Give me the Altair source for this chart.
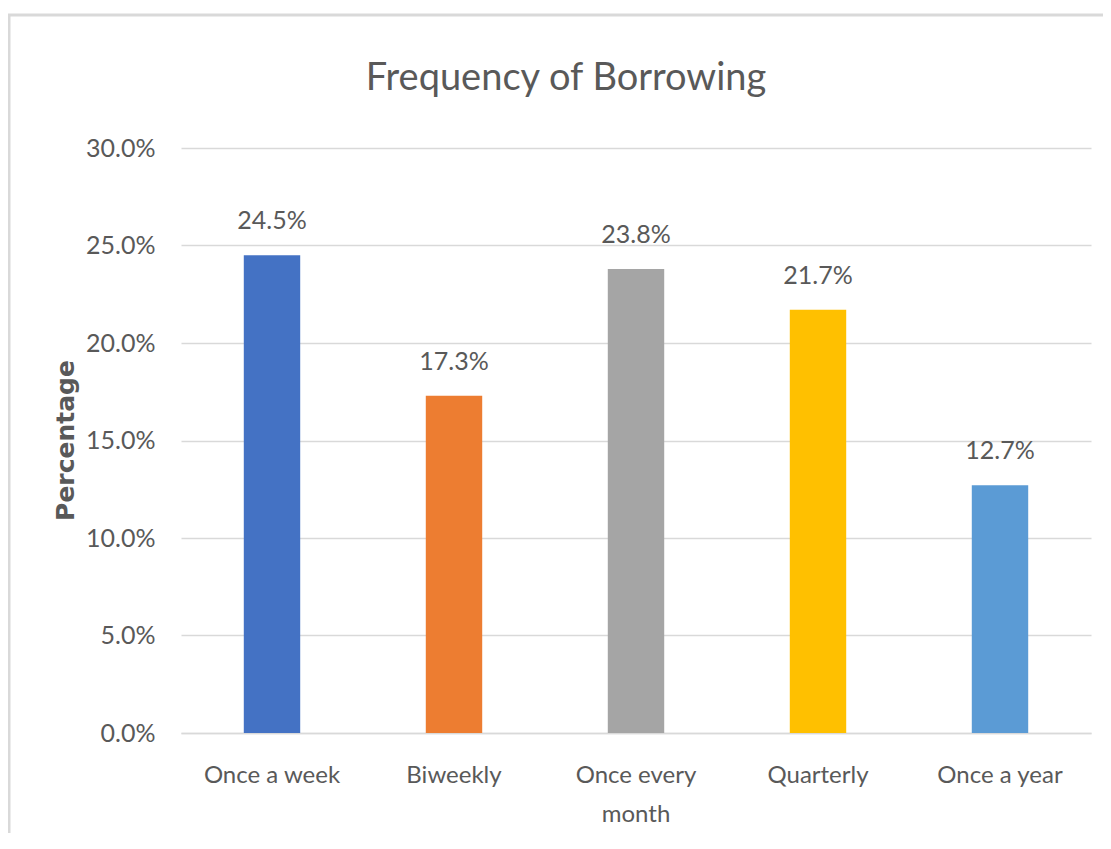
import altair as alt
import pandas as pd

categories = ["Once a week", "Biweekly", "Once every month", "Quarterly", "Once a year"]
values = [0.245, 0.173, 0.238, 0.217, 0.127]
colors = ["#4472C4", "#ED7D31", "#A5A5A5", "#FFC000", "#5B9BD5"]
y_ticks = [0.0, 0.05, 0.10, 0.15, 0.20, 0.25, 0.30]

df = pd.DataFrame({"category": categories, "value": values, "color": colors})

FONT = "Lato"
GREY = "#595959"

x_enc = alt.X(
    "category:N",
    sort=categories,
    scale=alt.Scale(paddingInner=0.69, paddingOuter=0.345),
    axis=alt.Axis(
        title=None,
        labelAngle=0,
        labelFont=FONT,
        labelFontSize=24,
        labelColor=GREY,
        labelPadding=30,
        labelLineHeight=39,
        labelBaseline="top",
        labelExpr="datum.label == 'Once every month' ? ['Once every', 'month'] : datum.label",
        ticks=False,
        domain=True,
        domainColor="#D9D9D9",
        domainWidth=1.5,
        grid=False,
    ),
)

y_enc = alt.Y(
    "value:Q",
    scale=alt.Scale(domain=[0, 0.30], nice=False),
    axis=alt.Axis(
        title="Percentage",
        titleFont="DejaVu Sans",
        titleFontSize=25,
        titleFontWeight="bold",
        titleColor=GREY,
        titleAngle=-90,
        titleX=-116,
        titleY=292,
        titleAlign="center",
        titleBaseline="middle",
        values=y_ticks,
        format=".1%",
        labelFont=FONT,
        labelFontSize=25,
        labelColor=GREY,
        labelPadding=26,
        ticks=False,
        domain=False,
        grid=True,
        gridColor="#D9D9D9",
        gridWidth=1.5,
    ),
)

border = alt.Chart(pd.DataFrame({"d": [0]})).mark_rect(
    fill=None, stroke="#D9D9D9", strokeWidth=3
).encode(
    x=alt.value(-172), x2=alt.value(960), y=alt.value(-133), y2=alt.value(900)
)

bars = alt.Chart(df).mark_bar().encode(
    x=x_enc,
    y=y_enc,
    color=alt.Color("color:N", scale=None, legend=None),
)

labels = alt.Chart(df).mark_text(
    font=FONT, fontSize=25, color=GREY, baseline="alphabetic", dy=-26
).encode(
    x=alt.X("category:N", sort=categories),
    y=alt.Y("value:Q"),
    text=alt.Text("value:Q", format=".1%"),
)

chart = alt.layer(border, bars, labels).properties(
    width=910,
    height=585,
    background="white",
    title=alt.TitleParams(
        "Frequency of Borrowing",
        font=FONT,
        fontSize=38,
        fontWeight="normal",
        color=GREY,
        anchor="middle",
        dx=-70,
        offset=-84,
    ),
    autosize=alt.AutoSizeParams(type="none"),
    padding={"left": 173, "top": 140, "right": 12, "bottom": 100},
).configure_view(stroke=None)

chart.save("out.html", embed_options={"renderer": "svg", "actions": False})
